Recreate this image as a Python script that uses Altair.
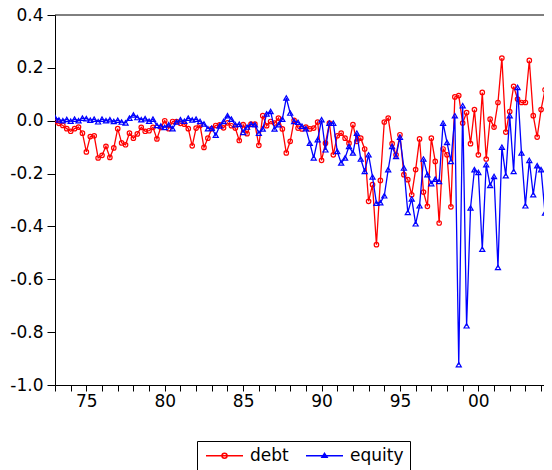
import altair as alt
import pandas as pd

START_YEAR = 1973
series_names = ["debt", "equity"]
series_colors = ["#ff0000", "#0000ff"]

debt = [-0.003, -0.010, -0.018, -0.030, -0.040, -0.030, -0.024, -0.047, -0.118, -0.060,
        -0.057, -0.141, -0.131, -0.097, -0.139, -0.103, -0.030, -0.084, -0.091, -0.047,
        -0.066, -0.050, -0.025, -0.040, -0.038, -0.025, -0.069, -0.025, 0.000, -0.030,
        -0.003, -0.003, -0.010, -0.013, -0.030, -0.095, -0.028, -0.018, -0.101, -0.066,
        -0.030, -0.018, -0.016, -0.027, -0.008, -0.019, -0.028, -0.075, -0.015, -0.049,
        -0.013, -0.013, -0.093, 0.019, -0.019, -0.003, -0.009, 0.010, -0.031, -0.122,
        -0.078, 0.001, -0.028, -0.031, -0.024, -0.031, -0.028, -0.005, -0.150, -0.085,
        -0.009, -0.129, -0.057, -0.047, -0.066, -0.085, -0.015, -0.078, -0.066, -0.107,
        -0.305, -0.242, -0.469, -0.226, -0.005, 0.010, -0.087, -0.129, -0.053, -0.204,
        -0.223, -0.280, -0.185, -0.069, -0.270, -0.324, -0.066, -0.154, -0.387, -0.107,
        -0.129, -0.326, 0.090, 0.095, -0.009, 0.031, -0.087, 0.042, -0.129, 0.107,
        -0.145, 0.006, -0.024, 0.069, 0.237, -0.043, 0.035, 0.130, 0.082, 0.069,
        0.069, 0.228, 0.019, -0.062, 0.042, 0.117, -0.028, -0.107]

equity = [0.012, 0.003, 0.000, 0.005, -0.002, 0.006, 0.000, 0.010, 0.008, 0.002,
          0.006, -0.004, 0.006, 0.000, 0.004, -0.003, 0.002, -0.005, -0.008, 0.010,
          0.022, 0.012, 0.004, 0.008, -0.002, 0.006, -0.018, -0.020, -0.025, -0.015,
          -0.030, -0.005, 0.004, -0.002, 0.010, 0.003, 0.006, -0.003, -0.012, -0.030,
          -0.028, -0.055, -0.020, -0.003, 0.019, 0.006, -0.015, -0.013, -0.044, -0.024,
          -0.013, -0.015, -0.047, -0.031, 0.026, 0.035, -0.031, -0.015, 0.006, 0.086,
          0.029, -0.003, -0.006, -0.021, -0.030, -0.085, -0.141, -0.072, 0.004, -0.110,
          -0.009, -0.009, -0.116, -0.160, -0.141, -0.097, -0.122, -0.047, -0.145, -0.192,
          -0.129, -0.213, -0.312, -0.310, -0.284, -0.185, -0.097, -0.135, -0.062, -0.179,
          -0.347, -0.296, -0.390, -0.322, -0.145, -0.204, -0.238, -0.221, -0.230, -0.009,
          -0.082, -0.154, 0.019, -0.923, 0.057, -0.776, -0.330, -0.185, -0.196, -0.486,
          -0.166, -0.245, -0.211, -0.555, -0.100, -0.208, 0.019, -0.192, 0.126, -0.122,
          -0.322, -0.150, -0.280, -0.170, -0.185, -0.349, -0.145, -0.129]

y_ticks = [-1.0, -0.8, -0.6, -0.4, -0.2, 0.0, 0.2, 0.4]
year_ticks = list(range(1973, 2005))

n = len(debt)
dates = [START_YEAR + i / 4 for i in range(n)]
df = pd.DataFrame({
    "date": dates + dates,
    "value": debt + equity,
    "series": ["debt"] * n + ["equity"] * n,
})

FONT = "DejaVu Sans"
# legend glyphs: a 37px line with a small marker in its middle (units of 6px)
LEG_DEBT = "M-0.92,0H5.25M1.75,0A0.42,0.42,0,1,1,2.59,0A0.42,0.42,0,1,1,1.75,0Z"
LEG_EQ = "M-0.92,0H5.25M2.17,-0.38L2.59,0.26L1.75,0.26Z"

PLOT_W = 489
X_END = 1973.0 + PLOT_W / 15.68

x_enc = alt.X(
    "date:Q",
    title=None,
    scale=alt.Scale(domain=[1973.0, X_END], nice=False, zero=False),
    axis=alt.Axis(
        values=year_ticks,
        labelExpr="datum.value % 5 == 0 ? substring(toString(datum.value), 2, 4) : ''",
        tickSize=6, labelPadding=2, labelFont=FONT, labelFontSize=17,
        labelColor="black", domainColor="black", tickColor="black",
        grid=False, labelOverlap=False, labelFlush=False,
    ),
)
y_scale = alt.Scale(domain=[-1.0, 0.4], nice=False, zero=False)
y_axis = alt.Axis(
    values=y_ticks,
    labelExpr="replace(format(datum.value, '.1f'), '\u2212', '-')",
    tickSize=8, labelPadding=4, labelFont=FONT, labelFontSize=17,
    labelColor="black", domainColor="black", tickColor="black",
    grid=False,
)
y_enc = alt.Y("value:Q", title=None, scale=y_scale, axis=y_axis)

base = alt.Chart(df)

red_line = base.mark_line(color=series_colors[0], strokeWidth=1.3, clip=True).encode(
    x=x_enc, y=y_enc).transform_filter("datum.series == 'debt'")
red_pts = base.mark_point(shape="circle", color=series_colors[0], filled=False, size=20,
                          strokeWidth=1.2, opacity=1, clip=True).encode(
    x=x_enc, y=y_enc).transform_filter("datum.series == 'debt'")
blue_line = base.mark_line(color=series_colors[1], strokeWidth=1.3, clip=True).encode(
    x=x_enc, y=y_enc).transform_filter("datum.series == 'equity'")
blue_pts = base.mark_point(shape="triangle-up", color=series_colors[1], filled=False, size=26,
                           strokeWidth=1.2, opacity=1, clip=True).encode(
    x=x_enc, y=y_enc).transform_filter("datum.series == 'equity'")

leg = alt.Legend(
    orient="none", legendX=142, legendY=426, direction="horizontal", title=None,
    strokeColor="black", fillColor="white", padding=6, cornerRadius=0,
    labelFont=FONT, labelFontSize=17, labelColor="black", labelOffset=30,
    columnPadding=13, symbolSize=144, symbolStrokeWidth=1.5,
)
legend_layer = base.mark_point(filled=False, opacity=1, strokeWidth=1.5).encode(
    x=x_enc, y=y_enc,
    color=alt.Color("series:N", scale=alt.Scale(domain=series_names, range=series_colors), legend=leg),
    shape=alt.Shape("series:N", scale=alt.Scale(domain=series_names, range=[LEG_DEBT, LEG_EQ]), legend=leg),
).transform_filter("false")

top_border = alt.Chart(pd.DataFrame({"v": [0.4]})).mark_rule(color="black", strokeWidth=1).encode(
    y=alt.Y("v:Q", title=None, scale=y_scale, axis=y_axis)
)

chart = alt.layer(red_line, red_pts, blue_line, blue_pts, legend_layer, top_border).properties(
    width=PLOT_W, height=370,
    autosize=alt.AutoSizeParams(type="none"),
    padding={"left": 47, "top": 7, "right": 0, "bottom": 85},
    background="white",
).configure_view(stroke=None)

chart.save("out.html", embed_options={"renderer": "svg", "actions": False})
